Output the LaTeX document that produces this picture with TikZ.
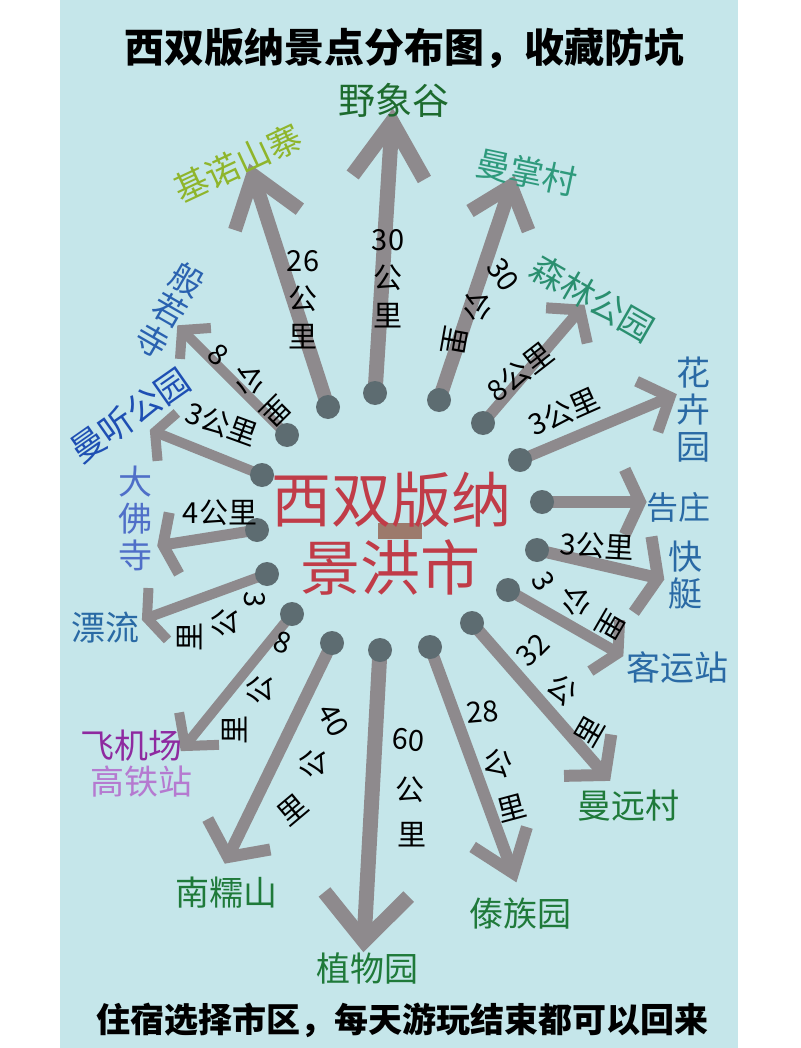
\documentclass[tikz,border=0pt]{standalone}
\usepackage{fontspec}
\setmainfont{Noto Sans CJK SC}
\usetikzlibrary{calc}
\definecolor{bgc}{RGB}{197,230,234}
\definecolor{shaftc}{RGB}{142,138,141}
\definecolor{dotc}{RGB}{93,108,113}
\definecolor{cred}{RGB}{192,60,72}
\definecolor{cbrown}{RGB}{156,122,108}
\definecolor{cjn}{RGB}{143,181,43}
\definecolor{cyx}{RGB}{29,107,46}
\definecolor{cmz}{RGB}{46,154,124}
\definecolor{csl}{RGB}{42,143,111}
\definecolor{cblue}{RGB}{42,106,165}
\definecolor{cgreen}{RGB}{31,122,58}
\definecolor{cpurple}{RGB}{142,42,160}
\definecolor{clpurple}{RGB}{181,122,208}
\definecolor{cmblue}{RGB}{79,111,200}
\definecolor{cdblue}{RGB}{30,79,179}
\definecolor{cbr}{RGB}{42,98,176}
\tikzset{
  shaft/.style={draw=shaftc, line cap=butt, line join=miter},
  place/.style={inner sep=0pt, align=center, font=\fontsize{34}{37}\selectfont},
  dist/.style={inner sep=0pt, align=center, text=black, font=\fontsize{29}{38}\selectfont},
}
\newcommand\myarr[5]{%
  \draw[shaft, line width=#5pt] (#1) -- (#2);
  \draw[shaft, line width=#5pt] ($(#2)!#3pt!#4:(#1)$) -- (#2) -- ($(#2)!#3pt!-#4:(#1)$);
}
\begin{document}
\begin{tikzpicture}[x=1pt, y=-1pt]
\useasboundingbox (0,0) rectangle (800,1048);
\fill[white] (0,0) rectangle (800,1048);
\fill[bgc] (60,0) rectangle (738,1048);

% title and footer
\node[inner sep=0pt, font=\fontsize{40}{40}\selectfont\bfseries] (title) at (404,48) {西双版纳景点分布图，收藏防坑};
\node[inner sep=0pt, font=\fontsize{34}{34}\selectfont\bfseries] (foot) at (402,1020) {住宿选择市区，每天游玩结束都可以回来};

% centre
\node[fill=cbrown, minimum width=44pt, minimum height=16pt, inner sep=0pt] (bar) at (400,531) {};
\node[inner sep=0pt, text=cred, font=\fontsize{60}{60}\selectfont] (c1) at (391,500) {西双版纳};
\node[inner sep=0pt, text=cred, font=\fontsize{60}{60}\selectfont] (c2) at (390,567) {景洪市};

% arrow start points and tips
\coordinate (d1) at (328,407);  \coordinate (t1) at (253,175);
\coordinate (d2) at (375,393);  \coordinate (t2) at (392,122);
\coordinate (d3) at (439,400);  \coordinate (t3) at (511,186);
\coordinate (d4) at (483,423);  \coordinate (t4) at (580,310);
\coordinate (d5) at (520,460);  \coordinate (t5) at (670,397);
\coordinate (d6) at (542,502);  \coordinate (t6) at (640,502);
\coordinate (d7) at (537,550);  \coordinate (t7) at (658,578);
\coordinate (d8) at (508,590);  \coordinate (t8) at (618,653);
\coordinate (d9) at (472,623);  \coordinate (t9) at (605,775);
\coordinate (d10) at (430,647); \coordinate (t10) at (513,873);
\coordinate (d11) at (380,650); \coordinate (t11) at (364,941);
\coordinate (d12) at (332,643); \coordinate (t12) at (228,857);
\coordinate (d13) at (292,614); \coordinate (t13) at (185,746);
\coordinate (d14) at (267,574); \coordinate (t14) at (147,618);
\coordinate (d15) at (257,530); \coordinate (t15) at (163,545);
\coordinate (d16) at (262,475); \coordinate (t16) at (155,432);
\coordinate (d17) at (287,435); \coordinate (t17) at (182,330);

\myarr{d1}{t1}{58}{36}{14}
\myarr{d2}{t2}{66}{33}{15}
\myarr{d3}{t3}{48}{40}{14}
\myarr{d4}{t4}{34}{53}{11}
\myarr{d5}{t5}{37}{48}{11}
\myarr{d6}{t6}{36}{65}{12}
\myarr{d7}{t7}{42}{68}{12}
\myarr{d8}{t8}{33}{63}{11}
\myarr{d9}{t9}{41}{50}{12}
\myarr{d10}{t10}{48}{37}{12}
\myarr{d11}{t11}{63}{42}{15}
\myarr{d12}{t12}{43}{54}{12}
\myarr{d13}{t13}{34}{49}{10}
\myarr{d14}{t14}{30}{67}{10}
\myarr{d15}{t15}{33}{70}{11}
\myarr{d16}{t16}{29}{63}{10}
\myarr{d17}{t17}{29}{49}{10}

\foreach \i in {1,...,17} {\fill[dotc] (d\i) circle[radius=12pt];}

% place names
\node[place, text=cjn, rotate=25] (p1) at (238,163) {基诺山寨};
\node[place, text=cyx, font=\fontsize{37}{40}\selectfont] (p2) at (394,100) {野象谷};
\node[place, text=cmz, rotate=-12] (p3) at (527,172) {曼掌村};
\node[place, text=csl, rotate=-30] (p4) at (593,298) {森林公园};
\node[place, text=cblue] (p5) at (693,410) {花\\卉\\园};
\node[place, text=cblue, font=\fontsize{32}{36}\selectfont] (p6) at (678,507) {告庄};
\node[place, text=cblue] (p7) at (685,575) {快\\艇};
\node[place, text=cblue] (p8) at (677,667) {客运站};
\node[place, text=cgreen] (p9) at (628,806) {曼远村};
\node[place, text=cgreen] (p10) at (520,914) {傣族园};
\node[place, text=cgreen] (p11) at (367,968) {植物园};
\node[place, text=cgreen] (p12) at (226,893) {南糯山};
\node[place, text=cpurple] (p13a) at (131,746) {飞机场};
\node[place, text=clpurple] (p13b) at (141,782) {高铁站};
\node[place, text=cblue] (p14) at (105,628) {漂流};
\node[place, text=cmblue] (p15) at (135,518) {大\\佛\\寺};
\node[place, text=cdblue, rotate=35] (p16) at (130,415) {曼听公园};
\node[place, text=cbr, rotate=-30, font=\fontsize{33}{35}\selectfont] (p17) at (170,310) {般\\若\\寺};

% distance labels
\node[dist] (k1) at (303,300) {26\\公\\里};
\node[dist] (k2) at (388,279) {30\\公\\里};
\node[dist, rotate=-55] (k3a) at (503,275) {30};
\node[dist, rotate=180] (k3b) at (478,307) {公};
\node[dist, rotate=-100] (k3c) at (455,341) {里};
\node[dist, rotate=38] (k4) at (520,372) {8公里};
\node[dist, rotate=24] (k5) at (564,412) {3公里};
\node[dist, rotate=-3] (k6) at (597,546) {3公里};
\node[dist, rotate=-60] (k7a) at (543,581) {3};
\node[dist, rotate=180] (k7b) at (577,602) {公};
\node[dist, rotate=-120] (k7c) at (611,625) {里};
\node[dist, rotate=45] (k8a) at (533,650) {32};
\node[dist, rotate=-40] (k8b) at (563,690) {公};
\node[dist, rotate=60] (k8c) at (589,732) {里};
\node[dist, rotate=5] (k9a) at (483,712) {28};
\node[dist, rotate=-15] (k9b) at (498,763) {公};
\node[dist, rotate=15] (k9c) at (512,808) {里};
\node[dist, rotate=-5] (k10a) at (408,740) {60};
\node[dist] (k10b) at (410,790) {公};
\node[dist] (k10c) at (412,835) {里};
\node[dist, rotate=-60] (k11a) at (333,720) {40};
\node[dist, rotate=90] (k11b) at (313,764) {公};
\node[dist, rotate=40] (k11c) at (293,810) {里};
\node[dist, rotate=-20] (k12a) at (283,643) {8};
\node[dist, rotate=90] (k12b) at (260,690) {公};
\node[dist, rotate=90] (k12c) at (235,730) {里};
\node[dist, rotate=-90] (k13a) at (255,600) {3};
\node[dist, rotate=90] (k13b) at (225,623) {公};
\node[dist, rotate=90] (k13c) at (190,637) {里};
\node[dist] (k14) at (220,513) {4公里};
\node[dist, rotate=-20] (k15) at (222,424) {3公里};
\node[dist, rotate=-40] (k16a) at (218,355) {8};
\node[dist, rotate=180] (k16b) at (250,381) {公};
\node[dist, rotate=-135] (k16c) at (276,411) {里};
\end{tikzpicture}
\end{document}
